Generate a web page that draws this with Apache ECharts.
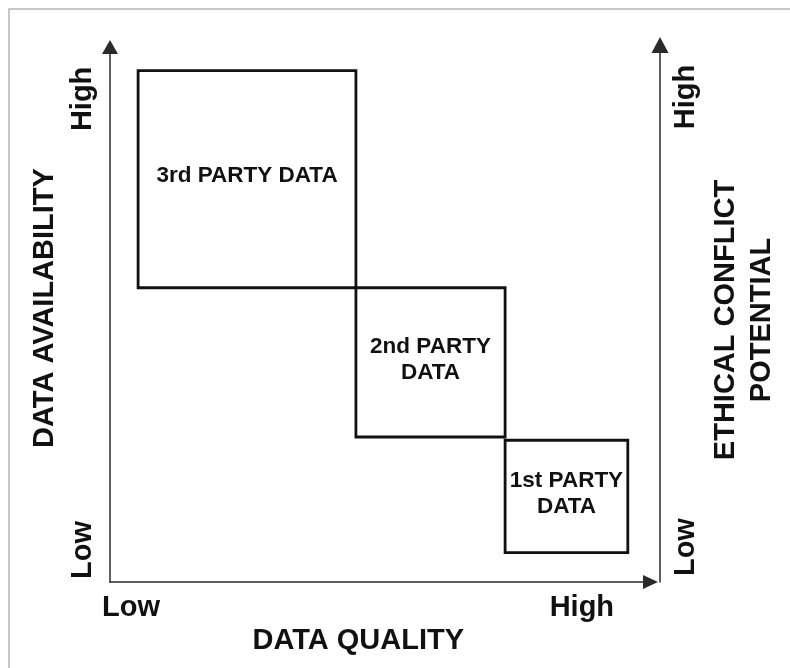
<!DOCTYPE html>
<html><head><meta charset="utf-8">
<script src="https://cdn.jsdelivr.net/npm/echarts@6/dist/echarts.min.js"></script>
<style>html,body{margin:0;padding:0;background:#fff}#c{width:790px;height:668px}</style>
</head><body><div id="c"></div>
<script>
// Box categories and extents (axis units 0-100)
const boxNames = ['3rd PARTY DATA', '2nd PARTY\nDATA', '1st PARTY\nDATA'];
const boxX0 = [5.2, 45.5, 73.1];
const boxX1 = [45.5, 73.1, 95.8];
const boxY0 = [55.0, 27.1, 5.5];
const boxY1 = [95.6, 55.0, 26.5];

// Axis end labels
const xTickValues = [3.9, 87.3];
const xTickLabels = ['Low', 'High'];
const yLeftTickValues = [6.0, 90.3];
const yLeftTickLabels = ['Low', 'High'];
const yRightTickValues = [6.5, 90.3];
const yRightTickLabels = ['Low', 'High'];

const xName = 'DATA QUALITY';
const yLeftName = 'DATA AVAILABILITY';
const yRightName = 'ETHICAL CONFLICT\nPOTENTIAL';

const FONT = '"Liberation Sans", Arial, sans-serif';
const AXIS_COLOR = '#2a2a2a';
const INK = '#111';
const BIG = 29;

function fmt(values, labels) {
  return function (v) {
    for (let i = 0; i < values.length; i++) if (Math.abs(values[i] - v) < 1e-6) return labels[i];
    return '';
  };
}

const boxData = boxNames.map((n, i) => [boxX0[i], boxX1[i], boxY0[i], boxY1[i]]);

const chart = echarts.init(document.getElementById('c'), null, {renderer: 'canvas'});
chart.setOption({
  animation: false,
  backgroundColor: '#fff',
  graphic: [{
    type: 'polyline',
    shape: {points: [[9, 700], [9, 9], [800, 9]]},
    style: {stroke: '#b4b4b4', lineWidth: 1.5, fill: null},
    silent: true
  }],
  grid: [
    {left: 110, right: 139.5, top: 47, bottom: 86},
    {left: 110, right: 130, top: 45, bottom: 86}
  ],
  xAxis: [{
    gridIndex: 0, type: 'value', min: 0, max: 100,
    axisLine: {show: true, onZero: false, symbol: ['none', 'triangle'], symbolSize: [14, 15],
      lineStyle: {color: AXIS_COLOR, width: 1.5}},
    axisTick: {show: false}, splitLine: {show: false},
    axisLabel: {show: true, customValues: xTickValues, formatter: fmt(xTickValues, xTickLabels),
      margin: 11, color: INK, fontFamily: FONT, fontWeight: 'bold', fontSize: BIG},
    name: xName, nameLocation: 'middle', nameGap: 38,
    nameTextStyle: {color: INK, fontFamily: FONT, fontWeight: 'bold', fontSize: BIG, padding: [0, 44, 0, 0]}
  }, {
    gridIndex: 1, type: 'value', min: 0, max: 100, show: false
  }],
  yAxis: [{
    gridIndex: 0, type: 'value', min: 0, max: 100, position: 'left',
    axisLine: {show: true, onZero: false, symbol: ['none', 'triangle'], symbolSize: [16, 14],
      lineStyle: {color: AXIS_COLOR, width: 1.5}},
    axisTick: {show: false}, splitLine: {show: false},
    axisLabel: {show: true, customValues: yLeftTickValues, formatter: fmt(yLeftTickValues, yLeftTickLabels),
      rotate: 90, margin: 13, color: INK, fontFamily: FONT, fontWeight: 'bold', fontSize: BIG},
    name: yLeftName, nameLocation: 'middle', nameGap: 51,
    nameTextStyle: {color: INK, fontFamily: FONT, fontWeight: 'bold', fontSize: BIG, padding: [0, 0, 0, 13]}
  }, {
    gridIndex: 1, type: 'value', min: 0, max: 100, position: 'right',
    axisLine: {show: true, onZero: false, symbol: ['none', 'triangle'], symbolSize: [17, 16],
      lineStyle: {color: AXIS_COLOR, width: 1.5}},
    axisTick: {show: false}, splitLine: {show: false},
    axisLabel: {show: true, customValues: yRightTickValues, formatter: fmt(yRightTickValues, yRightTickLabels),
      rotate: 90, margin: 11, color: INK, fontFamily: FONT, fontWeight: 'bold', fontSize: BIG},
    name: yRightName, nameLocation: 'middle', nameGap: 37,
    nameTextStyle: {color: INK, fontFamily: FONT, fontWeight: 'bold', fontSize: BIG, lineHeight: 36, padding: [0, 13, 0, 0]}
  }],
  series: [{
    type: 'custom',
    xAxisIndex: 0, yAxisIndex: 0,
    data: boxData,
    renderItem: function (params, api) {
      const p0 = api.coord([api.value(0), api.value(3)]);
      const p1 = api.coord([api.value(1), api.value(2)]);
      return {
        type: 'group',
        children: [{
          type: 'rect',
          shape: {x: p0[0], y: p0[1], width: p1[0] - p0[0], height: p1[1] - p0[1]},
          style: {fill: 'none', stroke: INK, lineWidth: 2.8}
        }, {
          type: 'text',
          x: (p0[0] + p1[0]) / 2, y: (p0[1] + p1[1]) / 2 - 3,
          style: {text: boxNames[params.dataIndex], fill: INK, align: 'center', verticalAlign: 'middle',
            font: 'bold 22.5px ' + FONT, lineHeight: 26}
        }]
      };
    }
  }]
});
</script>
</body></html>
